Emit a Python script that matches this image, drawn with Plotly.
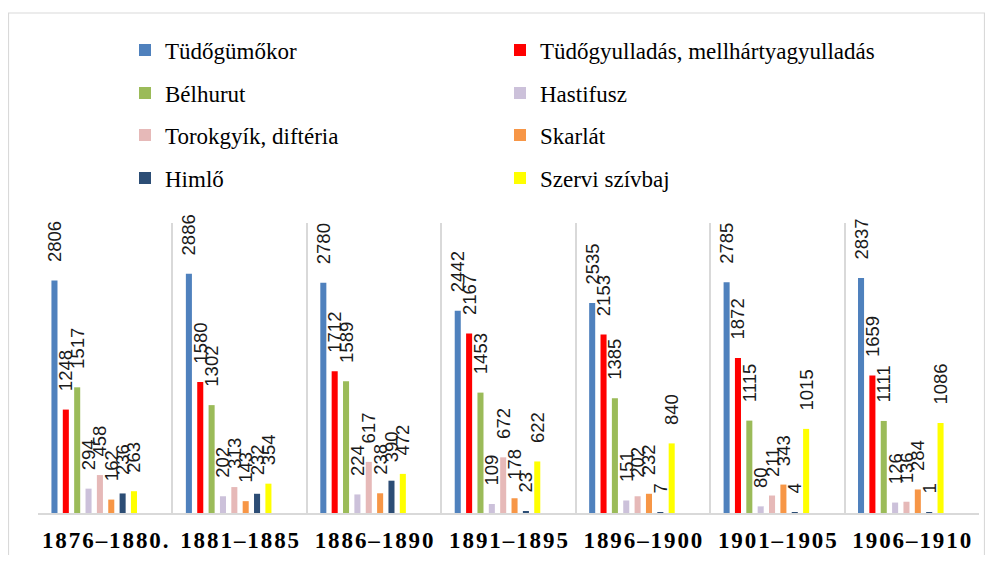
import plotly.graph_objects as go

# mortality by cause, five-year periods
PERIODS = ["1876–1880.", "1881–1885", "1886–1890", "1891–1895",
           "1896–1900", "1901–1905", "1906–1910"]

tudogumokor = [2806, 2886, 2780, 2442, 2535, 2785, 2837]
tudogyulladas = [1248, 1580, 1712, 2167, 2153, 1872, 1659]
belhurut = [1517, 1302, 1589, 1453, 1385, 1115, 1111]
hastifusz = [294, 202, 224, 109, 151, 80, 126]
torokgyik = [458, 313, 617, 672, 202, 211, 136]
skarlat = [162, 143, 238, 178, 232, 343, 284]
himlo = [236, 232, 390, 23, 7, 4, 1]
szivbaj = [263, 354, 472, 622, 840, 1015, 1086]

SERIES = [
    ("Tüdőgümőkor", tudogumokor, "#4F81BD"),
    ("Tüdőgyulladás, mellhártyagyulladás", tudogyulladas, "#FF0000"),
    ("Bélhurut", belhurut, "#9BBB59"),
    ("Hastifusz", hastifusz, "#CCC1DA"),
    ("Torokgyík, diftéria", torokgyik, "#E6B9B8"),
    ("Skarlát", skarlat, "#F79646"),
    ("Himlő", himlo, "#2C4D75"),
    ("Szervi szívbaj", szivbaj, "#FFFF00"),
]

# the page body has an 8px margin, so work in window pixels and shift
OFF = 8
W, H = 993 - 2 * OFF, 563 - 2 * OFF
PLOT_LEFT, PLOT_RIGHT, PLOT_TOP, PLOT_BOTTOM = 38, 979, 223, 513
L = PLOT_LEFT - OFF
R = W - (PLOT_RIGHT - OFF)
T = PLOT_TOP - OFF
B = H - (PLOT_BOTTOM - OFF)
PW, PH = W - L - R, H - T - B


def px_x(x):
    return (x - OFF - L) / PW


def px_y(y):
    return (H - B - (y - OFF)) / PH


BAR_W = 0.045
BAR_STEP = 0.0845
BAR_START = -0.40
PAD = "\u00a0\u00a0\u00a0"

fig = go.Figure()
for i, (name, vals, color) in enumerate(SERIES):
    leg = "legend" if i < 2 else f"legend{i // 2 + 1}"
    fig.add_trace(go.Bar(
        x=PERIODS, y=vals, name=name,
        marker=dict(color=color, line=dict(width=0)),
        width=BAR_W, offset=BAR_START + i * BAR_STEP,
        text=[PAD + str(v) for v in vals],
        textposition="outside", textangle=-90,
        constraintext="none", cliponaxis=False,
        textfont=dict(family="Liberation Sans", size=18.5, color="#1a1a1a"),
        legend=leg, hoverinfo="x+y+name",
    ))

row_y = [50, 93, 135, 178]
legend_common = dict(
    orientation="h", xanchor="left", yanchor="middle",
    x=px_x(125), entrywidth=330, entrywidthmode="pixels",
    font=dict(family="Liberation Serif", size=23, color="#000000"),
    bgcolor="rgba(0,0,0,0)", itemclick=False, itemdoubleclick=False,
)

tick_text = ["\u200a".join(p) for p in PERIODS]

# chart frame: left, top and right edges only (bottom is off the page)
fx0, fx1 = px_x(8.5), px_x(984.5)
fy0, fy1 = px_y(560), px_y(13)
frame_path = f"M {fx0},{fy0} L {fx0},{fy1} L {fx1},{fy1} L {fx1},{fy0}"

fig.update_layout(
    width=W, height=H,
    margin=dict(l=L, r=R, t=T, b=B, autoexpand=False),
    plot_bgcolor="white", paper_bgcolor="white",
    barmode="group",
    showlegend=True,
    legend=dict(y=px_y(row_y[0]), **legend_common),
    legend2=dict(y=px_y(row_y[1]), **legend_common),
    legend3=dict(y=px_y(row_y[2]), **legend_common),
    legend4=dict(y=px_y(row_y[3]), **legend_common),
    xaxis=dict(
        type="category", tickvals=PERIODS, ticktext=tick_text,
        tickson="boundaries", ticks="", tickangle=0, automargin=False,
        showgrid=True, gridcolor="#d9d9d9", gridwidth=1.5,
        showline=True, linecolor="#d9d9d9", linewidth=1.5,
        tickfont=dict(family="Liberation Serif", size=23, color="#000000",
                      weight="bold"),
        ticklabelstandoff=6,
        range=[-0.5, 6.5],
    ),
    yaxis=dict(visible=False, range=[0, 3500], showgrid=False),
    shapes=[dict(
        type="path", xref="paper", yref="paper", path=frame_path,
        line=dict(color="#d9d9d9", width=1.2), layer="below",
    )],
)

fig.write_html("out.html")
